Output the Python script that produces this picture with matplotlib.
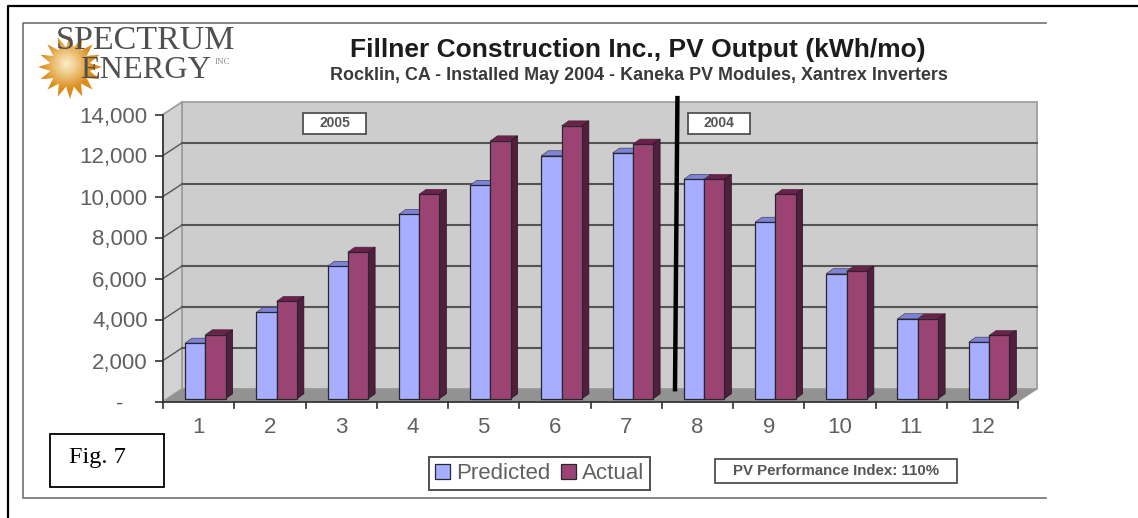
import matplotlib
matplotlib.use('Agg')
import matplotlib.pyplot as plt
import numpy as np
from matplotlib.patches import Polygon, Rectangle

### Data ###
months = [1, 2, 3, 4, 5, 6, 7, 8, 9, 10, 11, 12]
predicted = [2710, 4210, 6460, 8990, 10410, 11850, 11980, 10700, 8610, 6100, 3900, 2760]
actual = [3120, 4750, 7150, 9970, 12580, 13310, 12420, 10700, 9970, 6220, 3900, 3085]
y_ticks = [0, 2000, 4000, 6000, 8000, 10000, 12000, 14000]
y_labels = ['-    ', '2,000', '4,000', '6,000', '8,000', '10,000', '12,000', '14,000']

W, H = 1138, 518
plt.rcParams['font.family'] = ['Liberation Sans', 'DejaVu Sans']

fig = plt.figure(figsize=(W / 100, H / 100), dpi=100)

# overlay in pixel coords for frames, logo and text
bg = fig.add_axes([0, 0, 1, 1], zorder=0)
bg.set_xlim(0, W)
bg.set_ylim(H, 0)
bg.axis('off')

bg.plot([8, 8, W], [H, 6, 6], color='black', lw=1.6)
bg.plot([1046, 23, 23, 1046], [23, 23, 498, 498], color='#707070', lw=1.2)

# front plane of the chart, pixels
left, right, top, bottom = 163, 1018, 114.5, 401.5
ax = fig.add_axes([left / W, 1 - bottom / H, (right - left) / W, (bottom - top) / H], zorder=1)
ax.set_xlim(0.5, 12.5)
ax.set_ylim(0, 14000)
ax.patch.set_visible(False)
for s in ax.spines.values():
    s.set_visible(False)

# depth of the box and of the bars, in data units
px_x = 12 / (right - left)
px_y = 14000 / (bottom - top)
dx, dy = 19 * px_x, 12.5 * px_y
x0, x1 = 0.5, 12.5

ax.add_patch(Polygon([(x0 + dx, dy), (x1 + dx, dy), (x1 + dx, 14000 + dy), (x0 + dx, 14000 + dy)],
                     fc='#cdcdcd', ec='#9a9a9a', lw=1.2, clip_on=False, zorder=1))
ax.add_patch(Polygon([(x0, 0), (x0 + dx, dy), (x0 + dx, 14000 + dy), (x0, 14000)],
                     fc='#d2d2d2', ec='#9a9a9a', lw=1.2, clip_on=False, zorder=1))
ax.add_patch(Polygon([(x0, 0), (x1, 0), (x1 + dx, dy), (x0 + dx, dy)],
                     fc='#929292', ec='#9a9a9a', lw=0.8, clip_on=False, zorder=1))

for v in y_ticks[1:-1]:
    ax.plot([x0 + dx, x1 + dx], [v + dy, v + dy], color='#555555', lw=1.5, zorder=2, clip_on=False)
    ax.plot([x0, x0 + dx], [v, v + dy], color='#555555', lw=1, zorder=2, clip_on=False)

# bars
bar_w = 0.285
lift = 2.8 * px_y
shift = 22 * px_x
side_x, side_y = 7 * px_x, 5 * px_y


def draw_bars(xs, vals, col, top_col, side_col, label):
    bars = ax.bar(xs, vals, width=bar_w, bottom=lift, align='edge', color=col, edgecolor='#26262e',
                  lw=0.9, zorder=4, label=label, clip_on=False)
    for x, v in zip(xs, vals):
        h = v + lift
        ax.add_patch(Polygon([(x, h), (x + bar_w, h), (x + bar_w + side_x, h + side_y), (x + side_x, h + side_y)],
                             fc=top_col, ec='#3c2c40', lw=0.4, zorder=3, clip_on=False))
        if side_col:
            ax.add_patch(Polygon([(x + bar_w, lift), (x + bar_w + side_x, lift + side_y),
                                  (x + bar_w + side_x, h + side_y), (x + bar_w, h)],
                                 fc=side_col, ec='#2a1020', lw=0.5, zorder=3, clip_on=False))
    return bars


xs = np.array(months) - 0.5 + shift
b1 = draw_bars(xs, predicted, '#a8aeff', '#7c84d8', None, 'Predicted')
b2 = draw_bars(xs + bar_w, actual, '#9b4473', '#6e1f4a', '#4f1f3c', 'Actual')

# axes lines and ticks
ax.plot([x0, x0], [0, 14000], color='#303030', lw=1.2, clip_on=False, zorder=5)
ax.plot([x0, x1], [0, 0], color='#404040', lw=1.4, clip_on=False, zorder=5)
ax.set_xticks(months)
ax.set_xticklabels(months, fontsize=16, color='#606060')
ax.set_yticks(y_ticks)
ax.set_yticklabels(y_labels, fontsize=16, color='#606060')
ax.tick_params(axis='x', length=0, pad=11)
ax.tick_params(axis='y', length=6, width=1.2, color='#303030', pad=5)
for x in np.arange(0.5, 13):
    ax.plot([x, x], [0, -6 * px_y], color='#303030', lw=1.2, clip_on=False, zorder=5)

# divider between the two years, slightly tilted as pasted on the chart
ax.plot([7.686, 7.72], [600, 14800], color='black', lw=3.2, clip_on=False, zorder=6)

leg = ax.legend(handles=[b1, b2], loc='lower left', ncol=2, fontsize=16, frameon=True, fancybox=False,
                edgecolor='#505050', facecolor='white', framealpha=1, labelcolor='#606060',
                handlelength=0.68, handleheight=0.68, handletextpad=0.3, columnspacing=0.45, borderpad=0.25,
                bbox_to_anchor=(429 / W, 1 - 489.5 / H), bbox_transform=fig.transFigure, borderaxespad=0)
leg.set_zorder(7)
leg.get_frame().set_linewidth(1.4)

# overlay on top for boxes
fg = fig.add_axes([0, 0, 1, 1], zorder=2)
fg.set_xlim(0, W)
fg.set_ylim(H, 0)
fg.axis('off')
fg.patch.set_visible(False)

fg.text(638, 50, 'Fillner Construction Inc., PV Output (kWh/mo)', ha='center', va='center',
        fontsize=19, fontweight='bold', color='#1c1c1c')
fg.text(638.5, 76, 'Rocklin, CA - Installed May 2004 - Kaneka PV Modules, Xantrex Inverters', ha='center',
        va='center', fontsize=12.9, fontweight='bold', color='#3a3a3a')

for (bx, by, bw, bh, txt, fs) in [(303, 113, 63, 20.5, '2005', 10), (688, 113, 62, 20.5, '2004', 10),
                                  (715, 459, 242, 24, 'PV Performance Index: 110%', 10.8)]:
    fg.add_patch(Rectangle((bx, by), bw, bh, fc='white', ec='#505050', lw=1.3))
    fg.text(bx + bw / 2, by + bh / 2, txt, ha='center', va='center', fontsize=fs,
            fontweight='bold', color='#555555')

fg.add_patch(Rectangle((50, 434), 114, 53, fc='white', ec='black', lw=1.3))
fg.text(69, 458, 'Fig. 7', ha='left', va='center', fontsize=17.5, family='Liberation Serif', color='black')

# logo: sun with a radial gradient, clipped to a star
cx, cy = 70, 67
n_rays = 16
ang = np.linspace(0, 2 * np.pi, n_rays * 2, endpoint=False)
rad = np.where(np.arange(n_rays * 2) % 2 == 0, 32, 20)
star = Polygon(np.column_stack([cx + rad * np.cos(ang), cy + rad * np.sin(ang)]), fc='none', ec='none',
               transform=fg.transData)
fg.add_patch(star)
gx, gy = np.meshgrid(np.linspace(-1, 1, 128), np.linspace(-1, 1, 128))
grad = np.clip(np.hypot(gx + 0.1, gy + 0.1) * 1.25, 0, 1)
inner, outer = np.array([0.98, 0.93, 0.78]), np.array([0.86, 0.55, 0.10])
img = inner + (outer - inner) * grad[..., None] ** 1.1
im = fg.imshow(img, extent=(cx - 32, cx + 32, cy + 32, cy - 32), aspect='auto', zorder=1)
im.set_clip_path(star)
fg.set_xlim(0, W)
fg.set_ylim(H, 0)

fg.text(56, 41, 'SPECTRUM', ha='left', va='center', fontsize=24.5, family='Liberation Serif', color='#505050', zorder=2)
fg.text(80, 70.5, 'ENERGY', ha='left', va='center', fontsize=23.2, family='Liberation Serif', color='#505050', zorder=2)
fg.text(215, 62, 'INC', ha='left', va='center', fontsize=6.5, family='Liberation Serif', color='#909090', zorder=2)

fig.savefig('out.png', dpi=100)
